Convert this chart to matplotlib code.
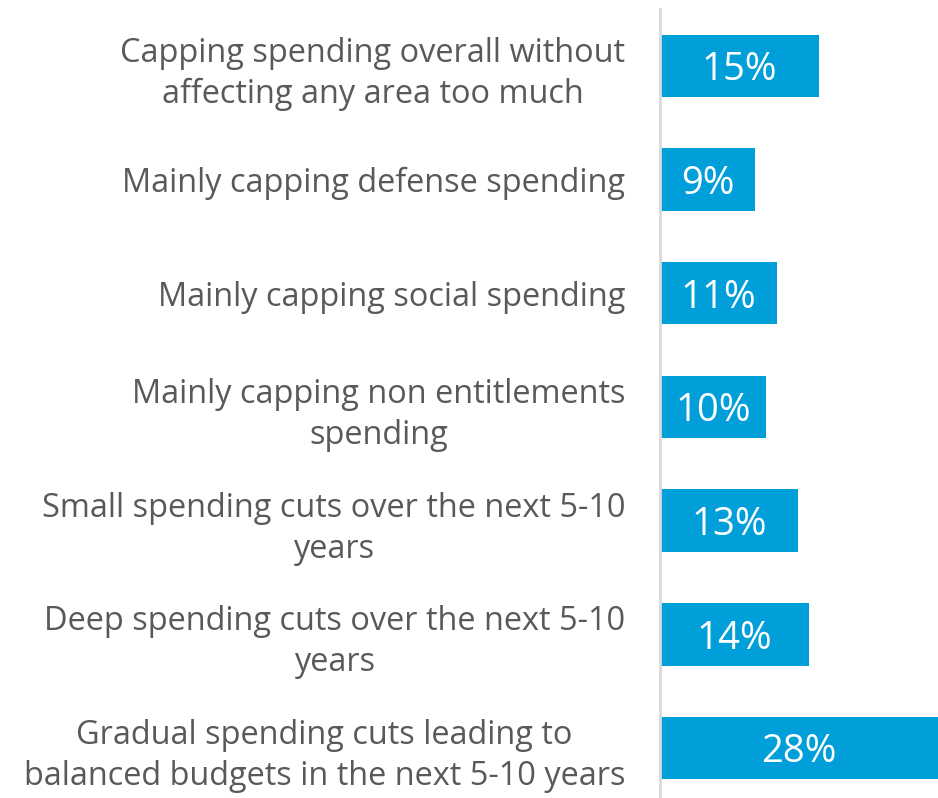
import matplotlib.pyplot as plt

# Survey options and share of respondents (%)
categories = [
    'Capping spending overall without\naffecting any area too much',
    'Mainly capping defense spending',
    'Mainly capping social spending',
    'Mainly capping non entitlements\nspending',
    'Small spending cuts over the next 5-10\nyears',
    'Deep spending cuts over the next 5-10\nyears',
    'Gradual spending cuts leading to\nbalanced budgets in the next 5-10 years',
]
values = [15, 9, 11, 10, 13, 14, 28]
value_labels = ['15%', '9%', '11%', '10%', '13%', '14%', '28%']

plt.rcParams['font.family'] = ['Open Sans', 'DejaVu Sans']

fig = plt.figure(figsize=(9.38, 7.98), dpi=100)
ax = fig.add_axes([660 / 938, 0, 1 - 660 / 938, (798 - 9) / 798])

pos = range(len(values))
bars = ax.barh(pos, values, height=0.55, color='#009FDA')
texts = ax.bar_label(bars, labels=value_labels, label_type='center', color='white', fontsize=27.5)
for t in texts:
    t.set_va('center_baseline')

ax.set_yticks(list(pos))
ax.set_yticklabels(categories, fontsize=23.4, color='#595959', ha='right', multialignment='center',
                   linespacing=1.32)
ax.tick_params(axis='y', length=0, pad=25)
ax.set_ylim(6.44, -0.5)
ax.set_xlim(0, 26.2)
ax.set_xticks([])

for side in ['top', 'right', 'bottom']:
    ax.spines[side].set_visible(False)
ax.spines['left'].set_color('#D9D9D9')
ax.spines['left'].set_linewidth(2)

plt.savefig('out.png', dpi=100)
